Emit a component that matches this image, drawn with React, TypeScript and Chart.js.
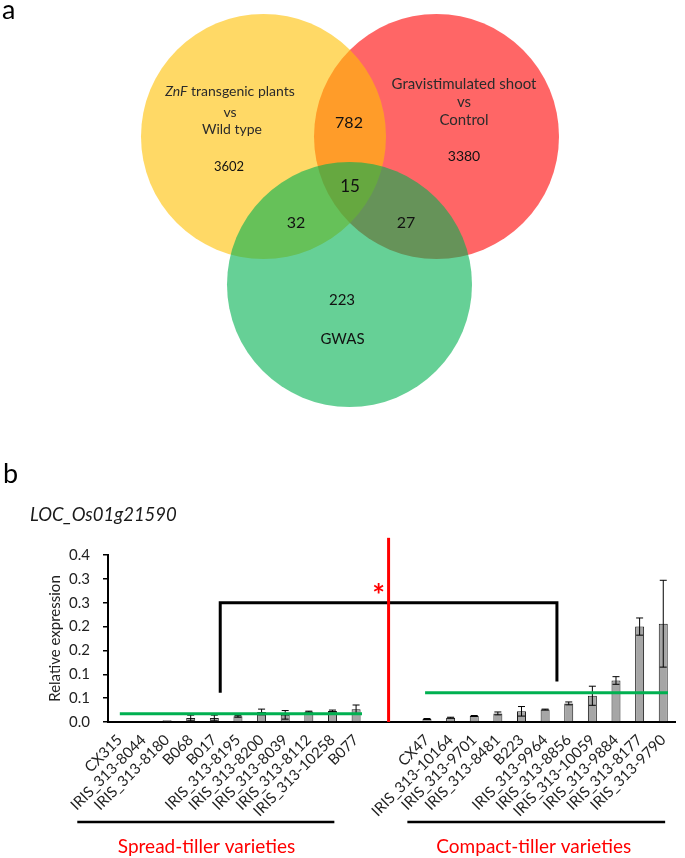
import React, { useEffect, useRef } from 'react';
import { Chart, registerables } from 'chart.js';

Chart.register(...registerables);

const FONT = 'Lato, "Open Sans", sans-serif';

// ---------------- Panel a : Venn diagram ----------------
const vennSetNames = ['GWAS', 'ZnF transgenic plants vs Wild type', 'Gravistimulated shoot vs Control'];
const vennColors = ['rgba(0,176,80,0.6)', 'rgba(255,192,0,0.6)', 'rgba(255,0,0,0.6)'];
const vennCenterX = [349.5, 263.5, 436.5];
const vennCenterY = [284.5, 136.5, 136.5];
const vennRadius = [122.5, 122.5, 122.5];
const setAItalic = 'ZnF';
const setALines = [' transgenic plants', 'vs', 'Wild type'];
const setBLines = ['Gravistimulated shoot', 'vs', 'Control'];
const setCName = 'GWAS';
const regionNames = ['onlyA', 'onlyB', 'onlyC', 'AB', 'AC', 'BC', 'ABC'];
const regionCounts = [3602, 3380, 223, 782, 32, 27, 15];

// ---------------- Panel b : bar chart ----------------
const geneName = 'LOC_Os01g21590';
const categories = [
  'CX315', 'IRIS_313-8044', 'IRIS_313-8180', 'B068', 'B017', 'IRIS_313-8195', 'IRIS_313-8200',
  'IRIS_313-8039', 'IRIS_313-8112', 'IRIS_313-10258', 'B077', '', '',
  'CX47', 'IRIS_313-10164', 'IRIS_313-9701', 'IRIS_313-8481', 'B223', 'IRIS_313-9964',
  'IRIS_313-8856', 'IRIS_313-10059', 'IRIS_313-9884', 'IRIS_313-8177', 'IRIS_313-9790',
];
const expression = [
  0.0014, 0.002, 0.0035, 0.0084, 0.0084, 0.012, 0.021, 0.015, 0.0217, 0.023, 0.0266, null, null,
  0.0063, 0.009, 0.0126, 0.018, 0.0224, 0.026, 0.039, 0.055, 0.087, 0.2, 0.206,
];
const expressionError = [
  0, 0, 0, 0.006, 0.006, 0.002, 0.006, 0.009, 0.001, 0.002, 0.009, null, null,
  0.001, 0.001, 0.001, 0.003, 0.01, 0.001, 0.003, 0.02, 0.008, 0.018, 0.091,
];
const yTickLabels = ['0.0', '0.1', '0.1', '0.2', '0.2', '0.3', '0.3', '0.4'];
const groupNames = ['Spread-tiller varieties', 'Compact-tiller varieties'];
const groupMeans = [0.0175, 0.0615];
const groupMeanFrom = [0, 12.92];
const groupMeanTo = [10.25, 23.2];
const groupLineFrom = [-1.8, 12.17];
const groupLineTo = [9.08, 23.08];
const groupNameCenter = [3.67, 17.52];
const bracketX = [4.25, 18.5];
const bracketBottom = [0.0615, 0.085];
const bracketTop = 0.25;
const dividerX = 11.375;
const dividerTop = 0.386;
const significance = '*';
const significanceX = 10.95;
const significanceY = 0.277;

const vennTextPlugin = {
  id: 'vennText',
  afterDatasetsDraw(chart: any) {
    const { ctx } = chart;
    const sx = chart.scales.x;
    const sy = chart.scales.y;
    const px = (v: number) => sx.getPixelForValue(v);
    const py = (v: number) => sy.getPixelForValue(v);
    ctx.save();
    ctx.textBaseline = 'alphabetic';
    // panel letter
    ctx.fillStyle = '#000';
    ctx.textAlign = 'left';
    ctx.font = `27px ${FONT}`;
    ctx.fillText('a', px(2), py(18.5));

    const nameColor = '#2b2b2b';
    // Set A name (italic gene name + rest)
    ctx.fillStyle = nameColor;
    ctx.font = `italic 14px ${FONT}`;
    const wI = ctx.measureText(setAItalic).width;
    ctx.font = `14px ${FONT}`;
    const wR = ctx.measureText(setALines[0]).width;
    const startX = px(230) - (wI + wR) / 2;
    ctx.textAlign = 'left';
    ctx.font = `italic 14px ${FONT}`;
    ctx.fillText(setAItalic, startX, py(95.5));
    ctx.font = `14px ${FONT}`;
    ctx.fillText(setALines[0], startX + wI, py(95.5));
    ctx.textAlign = 'center';
    ctx.fillText(setALines[1], px(230), py(116.5));
    ctx.fillText(setALines[2], px(232), py(134));
    // Set B name
    ctx.font = `15px ${FONT}`;
    ctx.fillText(setBLines[0], px(464), py(89));
    ctx.fillText(setBLines[1], px(464), py(106.5));
    ctx.fillText(setBLines[2], px(464), py(125));

    // region counts
    const countPos: Record<string, [number, number, number]> = {
      onlyA: [229, 170.5, 13],
      onlyB: [464, 161, 14],
      onlyC: [342, 305, 15],
      AB: [349, 128, 16],
      AC: [296, 228, 16],
      BC: [406, 228, 16],
      ABC: [350, 191.5, 17],
    };
    ctx.fillStyle = '#111';
    regionNames.forEach((r, i) => {
      const [x, y, s] = countPos[r];
      ctx.font = `${s}px ${FONT}`;
      ctx.fillText(String(regionCounts[i]), px(x), py(y));
    });
    ctx.font = `15px ${FONT}`;
    ctx.fillText(setCName, px(342.5), py(344));
    ctx.restore();
  },
};

const barOverlayPlugin = {
  id: 'barOverlay',
  afterDatasetsDraw(chart: any) {
    const { ctx, chartArea } = chart;
    const xs = chart.scales.x;
    const ys = chart.scales.y;
    const X = (v: number) => xs.getPixelForValue(v);
    const Y = (v: number) => ys.getPixelForValue(v);
    ctx.save();
    // error bars
    ctx.strokeStyle = '#000';
    ctx.lineWidth = 1;
    expression.forEach((v, i) => {
      const e = expressionError[i];
      if (v == null || e == null || e <= 0) return;
      const x = X(i);
      const t = Y(v + e);
      const b = Y(Math.max(0, v - e));
      ctx.beginPath();
      ctx.moveTo(x, t);
      ctx.lineTo(x, b);
      ctx.moveTo(x - 3.5, t);
      ctx.lineTo(x + 3.5, t);
      ctx.moveTo(x - 3.5, b);
      ctx.lineTo(x + 3.5, b);
      ctx.stroke();
    });
    // group mean lines
    ctx.strokeStyle = '#00B050';
    ctx.lineWidth = 3;
    groupMeans.forEach((m, i) => {
      ctx.beginPath();
      ctx.moveTo(X(groupMeanFrom[i]), Y(m));
      ctx.lineTo(X(groupMeanTo[i]), Y(m));
      ctx.stroke();
    });
    // bracket
    ctx.strokeStyle = '#000';
    ctx.lineWidth = 3;
    ctx.lineJoin = 'miter';
    ctx.beginPath();
    ctx.moveTo(X(bracketX[0]), Y(bracketBottom[0]));
    ctx.lineTo(X(bracketX[0]), Y(bracketTop));
    ctx.lineTo(X(bracketX[1]), Y(bracketTop));
    ctx.lineTo(X(bracketX[1]), Y(bracketBottom[1]));
    ctx.stroke();
    // divider
    ctx.strokeStyle = '#FF0000';
    ctx.lineWidth = 3;
    ctx.beginPath();
    ctx.moveTo(X(dividerX), Y(dividerTop));
    ctx.lineTo(X(dividerX), Y(0));
    ctx.stroke();
    // significance
    ctx.fillStyle = '#FF0000';
    ctx.font = `bold 30px ${FONT}`;
    ctx.textAlign = 'center';
    ctx.textBaseline = 'alphabetic';
    ctx.fillText(significance, X(significanceX), Y(significanceY) + 16);

    // group underline and names
    ctx.strokeStyle = '#000';
    ctx.lineWidth = 2.5;
    groupNames.forEach((g, i) => {
      ctx.beginPath();
      ctx.moveTo(X(groupLineFrom[i]), chartArea.bottom + 100);
      ctx.lineTo(X(groupLineTo[i]), chartArea.bottom + 100);
      ctx.stroke();
      ctx.fillStyle = '#FF0000';
      ctx.font = `19px ${FONT}`;
      ctx.textBaseline = 'middle';
      ctx.fillText(g, X(groupNameCenter[i]), chartArea.bottom + 125);
    });

    // panel letter and gene title
    ctx.textAlign = 'left';
    ctx.textBaseline = 'alphabetic';
    ctx.fillStyle = '#000';
    ctx.font = `27px ${FONT}`;
    ctx.fillText('b', 3, 33);
    ctx.font = `italic 18.5px ${FONT}`;
    ctx.fillStyle = '#1a1a1a';
    ctx.fillText(geneName, 30, 70.5);
    ctx.restore();
  },
};

export default function App() {
  const vennRef = useRef<HTMLCanvasElement>(null);
  const barRef = useRef<HTMLCanvasElement>(null);

  useEffect(() => {
    const venn = new Chart(vennRef.current!, {
      type: 'bubble',
      data: {
        datasets: vennSetNames.map((name, i) => ({
          label: name,
          data: [{ x: vennCenterX[i], y: vennCenterY[i], r: vennRadius[i] }],
          backgroundColor: vennColors[i],
          borderWidth: 0,
          hoverRadius: 0,
          clip: false,
        })),
      },
      options: {
        responsive: false,
        animation: false,
        events: [],
        layout: { padding: 0, autoPadding: false },
        plugins: { legend: { display: false }, tooltip: { enabled: false } },
        scales: {
          x: { type: 'linear', min: 0, max: 685, display: false },
          y: { type: 'linear', min: 0, max: 450, reverse: true, display: false },
        },
      },
      plugins: [vennTextPlugin],
    });

    const bar = new Chart(barRef.current!, {
      type: 'bar',
      data: {
        labels: categories,
        datasets: [
          {
            label: 'Relative expression',
            data: expression as any,
            backgroundColor: '#A6A6A6',
            borderColor: '#1a1a1a',
            borderWidth: 1,
            barPercentage: 0.38,
            categoryPercentage: 1,
          },
        ],
      },
      options: {
        responsive: false,
        animation: false,
        events: [],
        layout: { padding: { top: 105, left: 0, right: 1, bottom: 0 } },
        plugins: { legend: { display: false }, tooltip: { enabled: false } },
        scales: {
          x: {
            type: 'category',
            offset: true,
            grid: { display: false, drawTicks: false },
            border: { display: true, color: '#000', width: 2 },
            ticks: {
              autoSkip: false,
              maxRotation: 45,
              minRotation: 45,
              padding: 9,
              color: '#222',
              font: { family: FONT, size: 15 },
            },
            afterFit: (s: any) => {
              s.height = 136;
            },
          },
          y: {
            min: 0,
            max: 0.35,
            ticks: {
              stepSize: 0.05,
              padding: 13,
              color: '#222',
              font: { family: FONT, size: 15 },
              callback: (_v: any, i: number) => yTickLabels[i],
            },
            grid: { display: true, drawOnChartArea: false, drawTicks: true, tickLength: 5, color: '#000', lineWidth: 1.5 },
            border: { display: true, color: '#000', width: 2 },
            title: {
              display: true,
              text: 'Relative expression',
              color: '#222',
              font: { family: FONT, size: 15 },
              padding: { top: 46.5, bottom: 0 },
            },
            afterFit: (s: any) => {
              s.width = 108;
            },
          },
        },
      },
      plugins: [barOverlayPlugin],
    });

    return () => {
      venn.destroy();
      bar.destroy();
    };
  }, []);

  return (
    <div style={{ position: 'absolute', left: 0, top: 0, width: 685, height: 858, background: '#fff' }}>
      <canvas
        ref={vennRef}
        width={685}
        height={450}
        style={{ position: 'absolute', left: 0, top: 0, width: 685, height: 450 }}
      />
      <canvas
        ref={barRef}
        width={685}
        height={408}
        style={{ position: 'absolute', left: 0, top: 450, width: 685, height: 408 }}
      />
    </div>
  );
}
